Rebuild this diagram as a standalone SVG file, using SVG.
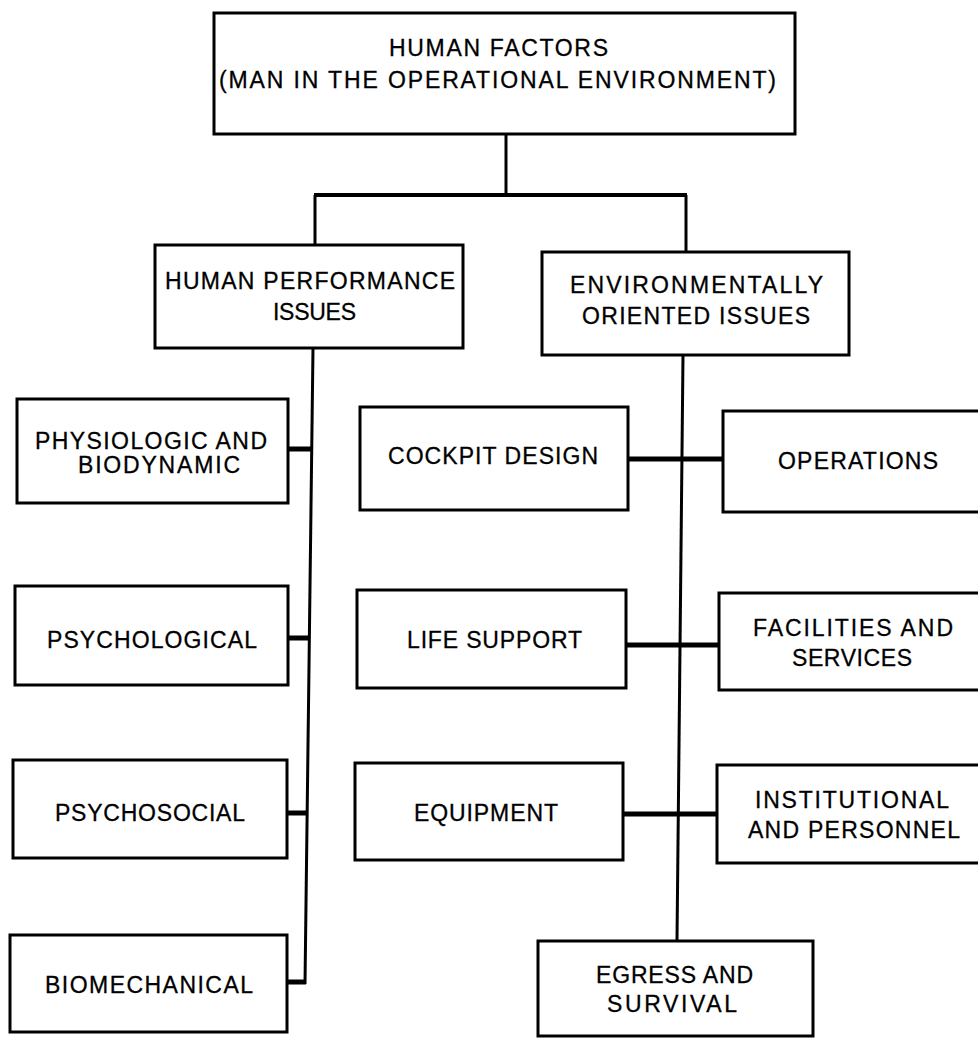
<svg xmlns="http://www.w3.org/2000/svg" width="978" height="1038" viewBox="0 0 978 1038">
<style>
.box{fill:#fff;stroke:#000;stroke-width:3}
.t{font-family:"Liberation Sans",Arial,sans-serif;font-size:23px;fill:#000;stroke:#000;stroke-width:0.3}
.ln{stroke:#000;stroke-width:3;fill:none}
.stub{stroke:#000;stroke-width:5;fill:none}
</style>
<rect width="978" height="1038" fill="#fff"/>
<g id="connectors">
<line class="ln" x1="506" y1="134" x2="506" y2="195"/>
<line class="ln" x1="314" y1="195" x2="687" y2="195" style="stroke-width:4"/>
<line class="ln" x1="315" y1="195" x2="315" y2="245"/>
<line class="ln" x1="686" y1="195" x2="686" y2="252"/>
<line class="ln" x1="313" y1="348" x2="305" y2="984"/>
<line class="stub" x1="288" y1="449" x2="313" y2="449"/>
<line class="stub" x1="288" y1="638" x2="310" y2="638"/>
<line class="stub" x1="287" y1="813" x2="308" y2="813"/>
<line class="stub" x1="287" y1="982" x2="306" y2="982"/>
<line class="ln" x1="683" y1="355" x2="677" y2="941"/>
<line class="stub" x1="628" y1="459" x2="723" y2="459"/>
<line class="stub" x1="626" y1="645" x2="719" y2="645"/>
<line class="stub" x1="623" y1="814" x2="717" y2="814"/>
</g>
<g id="n-human-factors">
<rect class="box" x="214" y="13" width="581" height="121"/>
<text class="t" x="389" y="56" textLength="219" lengthAdjust="spacing">HUMAN FACTORS</text>
<text class="t" x="219" y="88" textLength="557" lengthAdjust="spacing">(MAN IN THE OPERATIONAL ENVIRONMENT)</text>
</g>
<g id="n-human-performance">
<rect class="box" x="155" y="245" width="308" height="103"/>
<text class="t" x="165" y="289" textLength="290" lengthAdjust="spacing">HUMAN PERFORMANCE</text>
<text class="t" x="273" y="320" textLength="83" lengthAdjust="spacing">ISSUES</text>
</g>
<g id="n-environmental">
<rect class="box" x="542" y="252" width="307" height="103"/>
<text class="t" x="570" y="293" textLength="253" lengthAdjust="spacing">ENVIRONMENTALLY</text>
<text class="t" x="582" y="324" textLength="228" lengthAdjust="spacing">ORIENTED ISSUES</text>
</g>
<g id="n-physiologic">
<rect class="box" x="17" y="399" width="271" height="104"/>
<text class="t" x="35" y="449" textLength="232" lengthAdjust="spacing">PHYSIOLOGIC AND</text>
<text class="t" x="78" y="473" textLength="162" lengthAdjust="spacing">BIODYNAMIC</text>
</g>
<g id="n-psychological">
<rect class="box" x="15" y="586" width="273" height="99"/>
<text class="t" x="47" y="648" textLength="210" lengthAdjust="spacing">PSYCHOLOGICAL</text>
</g>
<g id="n-psychosocial">
<rect class="box" x="13" y="760" width="274" height="98"/>
<text class="t" x="55" y="821" textLength="190" lengthAdjust="spacing">PSYCHOSOCIAL</text>
</g>
<g id="n-biomechanical">
<rect class="box" x="10" y="935" width="277" height="97"/>
<text class="t" x="45" y="993" textLength="208" lengthAdjust="spacing">BIOMECHANICAL</text>
</g>
<g id="n-cockpit">
<rect class="box" x="360" y="407" width="268" height="103"/>
<text class="t" x="388" y="464" textLength="210" lengthAdjust="spacing">COCKPIT DESIGN</text>
</g>
<g id="n-life-support">
<rect class="box" x="357" y="590" width="269" height="98"/>
<text class="t" x="407" y="648" textLength="175" lengthAdjust="spacing">LIFE SUPPORT</text>
</g>
<g id="n-equipment">
<rect class="box" x="355" y="763" width="268" height="97"/>
<text class="t" x="414" y="821" textLength="144" lengthAdjust="spacing">EQUIPMENT</text>
</g>
<g id="n-operations">
<rect class="box" x="723" y="411" width="270" height="101"/>
<text class="t" x="778" y="469" textLength="160" lengthAdjust="spacing">OPERATIONS</text>
</g>
<g id="n-facilities">
<rect class="box" x="719" y="593" width="274" height="97"/>
<text class="t" x="753" y="636" textLength="200" lengthAdjust="spacing">FACILITIES AND</text>
<text class="t" x="792" y="666" textLength="120" lengthAdjust="spacing">SERVICES</text>
</g>
<g id="n-institutional">
<rect class="box" x="717" y="765" width="276" height="98"/>
<text class="t" x="755" y="808" textLength="194" lengthAdjust="spacing">INSTITUTIONAL</text>
<text class="t" x="748" y="838" textLength="212" lengthAdjust="spacing">AND PERSONNEL</text>
</g>
<g id="n-egress">
<rect class="box" x="538" y="941" width="275" height="95"/>
<text class="t" x="596" y="983" textLength="157" lengthAdjust="spacing">EGRESS AND</text>
<text class="t" x="607" y="1012" textLength="130" lengthAdjust="spacing">SURVIVAL</text>
</g>
</svg>
